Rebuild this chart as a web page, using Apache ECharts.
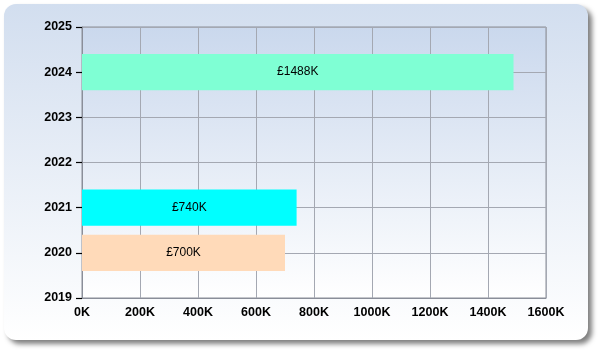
<!DOCTYPE html>
<html>
<head>
<meta charset="utf-8">
<script src="https://cdn.jsdelivr.net/npm/echarts@6/dist/echarts.min.js"></script>
<style>html,body{margin:0;padding:0;background:#fff;}#c{width:600px;height:350px;}</style>
</head>
<body>
<div id="c"></div>
<script>
const years = [2020, 2021, 2024];
const values = [700000, 740000, 1488000];
const barLabels = ['£700K', '£740K', '£1488K'];
const barColors = ['#ffdab9', '#00ffff', '#7fffd4'];
const yMin = 2019, yMax = 2025;
const xMax = 1600000, xStep = 200000;

const chart = echarts.init(document.getElementById('c'), null, {renderer: 'canvas'});
const data = years.map((y, i) => [values[i], y, i]);

chart.setOption({
  animation: false,
  graphic: [{
    type: 'rect', z: -10,
    shape: {x: 4, y: 4, width: 584, height: 336, r: 12},
    style: {
      fill: new echarts.graphic.LinearGradient(0, 0, 0, 1, [
        {offset: 0, color: '#d2deef'}, {offset: 1, color: '#ffffff'}
      ]),
      shadowColor: 'rgba(0,0,0,0.5)', shadowBlur: 5, shadowOffsetX: 4, shadowOffsetY: 4
    }
  }],
  grid: {
    left: 82, right: 54, top: 27, bottom: 52,
    show: true, borderColor: '#8a8e99', borderWidth: 1,
    backgroundColor: new echarts.graphic.LinearGradient(0, 0, 0, 1, [
      {offset: 0, color: '#cad8ed'}, {offset: 1, color: '#ffffff'}
    ])
  },
  xAxis: {
    type: 'value', min: 0, max: xMax, interval: xStep,
    axisLine: {show: true, lineStyle: {color: '#8a8e99'}},
    axisTick: {show: false},
    splitLine: {show: true, lineStyle: {color: '#a4a8b2', width: 1}},
    axisLabel: {
      color: '#000', fontFamily: 'Liberation Sans', fontWeight: 'bold', fontSize: 12.5, margin: 8,
      formatter: v => (v / 1000) + 'K'
    }
  },
  yAxis: {
    type: 'value', min: yMin, max: yMax, interval: 1,
    axisLine: {show: true, onZero: false, lineStyle: {color: '#8a8e99'}},
    axisTick: {show: true, inside: false, length: 6, lineStyle: {color: '#000', width: 1.2}},
    splitLine: {show: true, lineStyle: {color: '#a4a8b2', width: 1}},
    axisLabel: {
      color: '#000', fontFamily: 'Liberation Sans', fontWeight: 'bold', fontSize: 12.5, margin: 10,
      formatter: v => String(v)
    }
  },
  series: [{
    type: 'custom',
    data: data,
    encode: {x: 0, y: 1},
    renderItem: function (params, api) {
      const v = api.value(0), y = api.value(1), idx = api.value(2);
      const p0 = api.coord([0, y]);
      const p1 = api.coord([v, y]);
      const h = api.size([0, 0.8])[1];
      return {
        type: 'rect',
        shape: {x: p0[0], y: p0[1] - h / 2, width: p1[0] - p0[0], height: h},
        style: {fill: barColors[idx]},
        textContent: {
          style: {text: barLabels[idx], fill: '#000', fontFamily: 'Liberation Sans', fontSize: 12}
        },
        textConfig: {position: 'inside'}
      };
    }
  }]
});
</script>
</body>
</html>
